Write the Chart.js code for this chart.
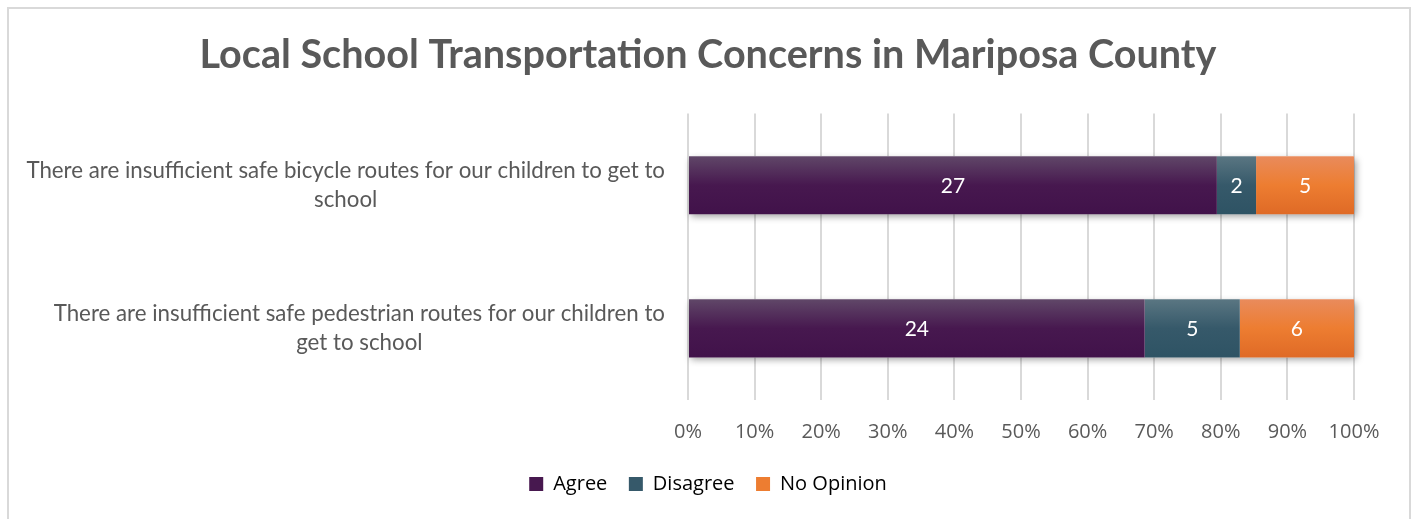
<!DOCTYPE html>
<html>
<head>
<meta charset="utf-8">
<script src="https://cdn.jsdelivr.net/npm/chart.js@4.4.1/dist/chart.umd.min.js"></script>
<style>
  html, body { margin: 0; padding: 0; background: #ffffff; }
  #wrap { position: relative; width: 1416px; height: 519px; }
</style>
</head>
<body>
<div id="wrap"><canvas id="chart" width="1416" height="519"></canvas></div>
<script>
// Survey responses per statement (counts)
const categories = [
  ["There are insufficient safe bicycle routes for our children to get to", "school"],
  ["There are insufficient safe pedestrian routes for our children to", "get to school"]
];
const seriesNames = ["Agree", "Disagree", "No Opinion"];
const agree = [27, 24];
const disagree = [2, 5];
const noOpinion = [5, 6];
const tickStep = 10; // percent between x-axis ticks

// Gradient stops per series: top tint, base, bottom shade
const palette = {
  Agree:       ["#604768", "#47184f", "#41124a"],
  Disagree:    ["#5a7682", "#36596a", "#2e5364"],
  "No Opinion": ["#e98b5c", "#ed7d31", "#df6a26"]
};

const counts = [agree, disagree, noOpinion];
const totals = categories.map((_, i) => counts.reduce((s, arr) => s + arr[i], 0));
const toShare = arr => arr.map((v, i) => v / totals[i] * 100);

const BAR_FRACTION = 0.405;

function barGradient(name) {
  return function (ctx) {
    const chart = ctx.chart;
    const stops = palette[name];
    const y = chart.scales && chart.scales.y;
    if (!y || ctx.dataIndex === undefined || !chart.chartArea) return stops[1];
    const center = y.getPixelForValue(ctx.dataIndex);
    const band = Math.abs(y.getPixelForValue(1) - y.getPixelForValue(0));
    const half = band * BAR_FRACTION / 2;
    const g = chart.ctx.createLinearGradient(0, center - half, 0, center + half);
    g.addColorStop(0, stops[0]);
    g.addColorStop(0.5, stops[1]);
    g.addColorStop(1, stops[2]);
    return g;
  };
}

// Frame around the whole chart
const framePlugin = {
  id: 'frame',
  beforeDraw(chart) {
    const c = chart.ctx;
    c.save();
    c.strokeStyle = '#d9d9d9';
    c.lineWidth = 2;
    c.strokeRect(8, 8, 1402, 560);
    c.restore();
  }
};

// Soft shadow under each full stacked bar, plus value labels
const shadowPlugin = {
  id: 'barShadow',
  beforeDatasetsDraw(chart) {
    const metas = chart.getSortedVisibleDatasetMetas();
    if (!metas.length) return;
    const c = chart.ctx;
    c.save();
    c.shadowColor = 'rgba(0,0,0,0.38)';
    c.shadowBlur = 7;
    c.shadowOffsetX = 2;
    c.shadowOffsetY = 3;
    c.fillStyle = '#ffffff';
    categories.forEach((_, i) => {
      const first = metas[0].data[i];
      const last = metas[metas.length - 1].data[i];
      const left = Math.min(first.base, first.x);
      const right = Math.max(last.x, last.base);
      const h = first.height;
      c.fillRect(left, first.y - h / 2, right - left, h);
    });
    c.restore();
  },
  afterDatasetsDraw(chart) {
    const c = chart.ctx;
    c.save();
    c.fillStyle = '#ffffff';
    c.font = '21px Lato';
    c.textAlign = 'center';
    c.textBaseline = 'middle';
    chart.getSortedVisibleDatasetMetas().forEach(meta => {
      const src = counts[meta.index];
      meta.data.forEach((el, i) => {
        c.fillText(String(src[i]), (el.x + el.base) / 2, el.y + 1);
      });
    });
    c.restore();
  }
};

// Category labels: each label's lines centred on its own widest line
const categoryLabelPlugin = {
  id: 'categoryLabels',
  afterDraw(chart) {
    const y = chart.scales.y;
    const c = chart.ctx;
    const rightEdge = chart.chartArea.left - 23;
    const lineH = 29;
    c.save();
    c.fillStyle = '#595959';
    c.font = '22.3px Lato';
    c.textAlign = 'center';
    c.textBaseline = 'middle';
    categories.forEach((lines, i) => {
      const widest = Math.max(...lines.map(l => c.measureText(l).width));
      const cx = rightEdge - widest / 2;
      const cy = y.getPixelForValue(i);
      const start = cy - (lines.length - 1) * lineH / 2;
      lines.forEach((l, k) => c.fillText(l, cx, start + k * lineH));
    });
    c.restore();
  }
};

const datasets = seriesNames.map((name, k) => ({
  label: name,
  data: toShare(counts[k]),
  backgroundColor: barGradient(name),
  borderWidth: 0,
  categoryPercentage: BAR_FRACTION,
  barPercentage: 1
}));

new Chart(document.getElementById('chart'), {
  type: 'bar',
  data: { labels: categories.map(l => l.join(' ')), datasets },
  plugins: [framePlugin, shadowPlugin, categoryLabelPlugin],
  options: {
    indexAxis: 'y',
    responsive: false,
    animation: false,
    layout: { padding: { left: 10, right: 10, top: 0, bottom: 15 } },
    plugins: {
      title: {
        display: true,
        text: 'Local School Transportation Concerns in Mariposa County',
        color: '#595959',
        font: { family: 'Lato', size: 39.6, weight: 'bold', lineHeight: 1.2 },
        padding: { top: 31, bottom: 35 }
      },
      legend: {
        position: 'bottom',
        labels: {
          color: '#595959',
          font: { family: 'Open Sans', size: 20 },
          boxWidth: 14,
          boxHeight: 14,
          padding: 21.5,
          generateLabels(chart) {
            return chart.data.datasets.map((ds, i) => ({
              text: ds.label,
              fillStyle: palette[ds.label][1],
              strokeStyle: palette[ds.label][1],
              lineWidth: 0,
              hidden: false,
              datasetIndex: i
            }));
          }
        }
      },
      tooltip: { enabled: false }
    },
    scales: {
      x: {
        stacked: true,
        min: 0,
        max: 100,
        ticks: {
          stepSize: tickStep,
          color: '#595959',
          font: { family: 'Open Sans', size: 20 },
          padding: 20,
          callback: v => v + '%'
        },
        grid: { color: '#d9d9d9', lineWidth: 2, drawTicks: false },
        border: { display: false },
        afterFit(scale) { scale.height = 52.5; }
      },
      y: {
        stacked: true,
        ticks: { display: false },
        grid: { display: false },
        border: { display: false },
        afterFit(scale) { scale.width = 678; }
      },
      yRight: {
        type: 'linear',
        position: 'right',
        display: true,
        ticks: { display: false },
        grid: { display: false },
        border: { display: false },
        afterFit(scale) { scale.width = 52; }
      }
    }
  }
});
</script>
</body>
</html>
